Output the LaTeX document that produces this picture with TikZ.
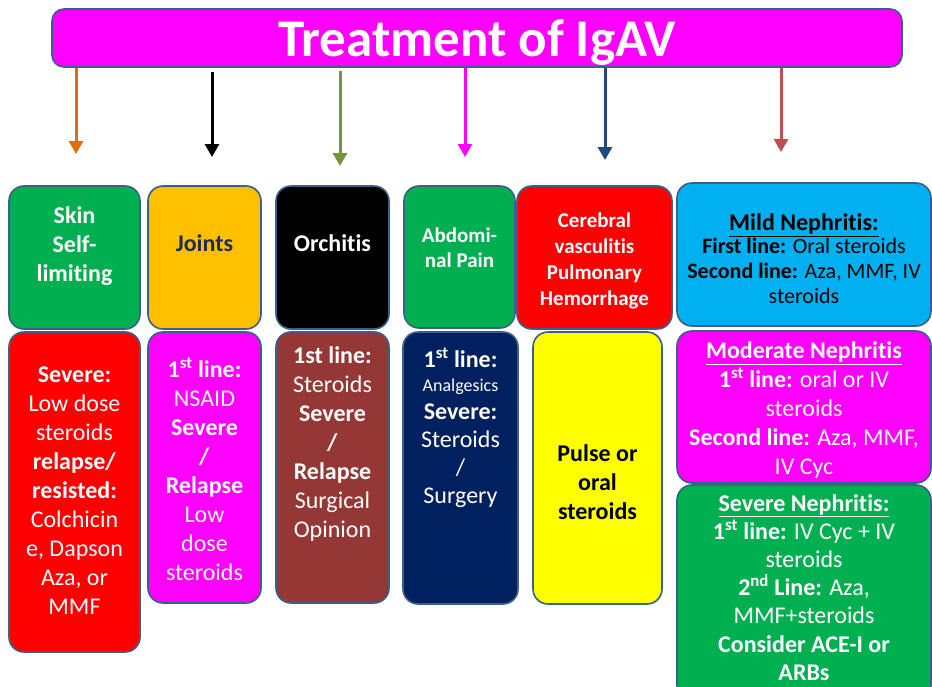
\documentclass[tikz,border=0pt]{standalone}
\usepackage{fontspec}
\setmainfont[Ligatures=NoCommon]{Carlito}
\usetikzlibrary{arrows.meta}

\definecolor{boxline}{HTML}{3A5F8A}
\definecolor{titlemag}{HTML}{FF00FF}
\definecolor{skingreen}{HTML}{00B050}
\definecolor{jointgold}{HTML}{FFC000}
\definecolor{jointtext}{HTML}{1F2D50}
\definecolor{cerebred}{HTML}{FF0000}
\definecolor{mildblue}{HTML}{00B0F0}
\definecolor{orchbrown}{HTML}{953735}
\definecolor{abdnavy}{HTML}{002060}
\definecolor{pulseyellow}{HTML}{FFFF00}
\definecolor{arrorange}{HTML}{E46C0A}
\definecolor{arrolive}{HTML}{77933C}
\definecolor{arrblue}{HTML}{1F497D}
\definecolor{arrbrown}{HTML}{C0504D}

\tikzstyle{block} = [rectangle, draw=boxline, line width=1.6pt, %fill=blue!20,
     rounded corners=15pt, inner sep=0pt]
\tikzstyle{txt} = [align=center, inner sep=0pt, anchor=north, text=white,
     font=\fontsize{24}{29}\selectfont]
\tikzstyle{arrow} = [draw, line width=3pt, -{Triangle[length=13pt,width=14pt]}]

\begin{document}
\begin{tikzpicture}[x=1pt,y=-1pt]
\useasboundingbox (0,0) rectangle (932,686);

\node[block, fill=titlemag, rounded corners=12pt, minimum width=850pt, minimum height=58pt] (title) at (477,38) {};
\node[txt, anchor=base, font=\fontsize{53}{56}\selectfont\bfseries] (titletext) at (477,56) {Treatment of IgAV};

% organ boxes
\node[block, fill=skingreen, minimum width=131pt, minimum height=143pt] (skin) at (74.5,257.5) {};
\node[block, fill=jointgold, minimum width=113pt, minimum height=143pt] (joints) at (204.5,257.5) {};
\node[block, fill=black, minimum width=113pt, minimum height=143pt] (orchitis) at (332.5,257.5) {};
\node[block, fill=skingreen, minimum width=111pt, minimum height=142pt] (abdominal) at (459.5,257) {};
\node[block, fill=cerebred, minimum width=155pt, minimum height=143pt] (cerebral) at (594.5,257.5) {};
\node[block, fill=mildblue, minimum width=254pt, minimum height=143pt] (mild) at (804,254.5) {};

\node[txt, font=\fontsize{24}{29}\selectfont\bfseries] (skintext) at (74.5,206.5) {Skin\\Self-\\limiting};
\node[txt, text=jointtext, font=\fontsize{24}{29}\selectfont\bfseries] (jointstext) at (204.5,234.5) {Joints};
\node[txt, font=\fontsize{24}{29}\selectfont\bfseries] (orchitistext) at (332.5,234.5) {Orchitis};
\node[txt, font=\fontsize{21}{25}\selectfont\bfseries] (abdominaltext) at (459.5,228) {Abdomi-\\nal Pain};
\node[txt, font=\fontsize{21}{26}\selectfont\bfseries] (cerebraltext) at (594.5,212.5) {Cerebral\\vasculitis\\Pulmonary\\Hemorrhage};
\node[txt, text=black, font=\fontsize{22}{25}\selectfont] (mildtext) at (804,213.5)
  {{\fontsize{24}{25}\selectfont\bfseries\underline{Mild Nephritis:}}\\[-2pt]
   \textbf{First line:} Oral steroids\\
   \textbf{Second line:} Aza, MMF, IV\\
   steroids};

% treatment boxes
\node[block, fill=cerebred, minimum width=131pt, minimum height=320pt] (skintreat) at (74.5,492) {};
\node[block, fill=titlemag, minimum width=113pt, minimum height=271pt] (jointstreat) at (204.5,467.5) {};
\node[block, fill=orchbrown, minimum width=113pt, minimum height=271pt] (orchitistreat) at (332.5,467.5) {};
\node[block, fill=abdnavy, minimum width=115pt, minimum height=272pt] (abdominaltreat) at (460.5,468) {};
\node[block, fill=pulseyellow, minimum width=129pt, minimum height=272pt] (cerebraltreat) at (597.5,468) {};
\node[block, fill=titlemag, minimum width=254pt, minimum height=152pt] (moderate) at (804,407) {};
\node[block, fill=skingreen, minimum width=254pt, minimum height=215pt] (severe) at (804,592.5) {};

\node[txt] (skintreattext) at (74.5,366.5)
  {\textbf{Severe:}\\Low dose\\steroids\\\textbf{relapse/}\\\textbf{resisted:}\\Colchicin\\e, Dapson\\Aza, or\\MMF};
\node[txt] (jointstreattext) at (204.5,357.5)
  {\textbf{1\textsuperscript{st} line:}\\NSAID\\\textbf{Severe}\\\textbf{/}\\\textbf{Relapse}\\Low\\dose\\steroids};
\node[txt] (orchitistreattext) at (332.5,346.5)
  {\textbf{1st line:}\\Steroids\\\textbf{Severe}\\\textbf{/}\\\textbf{Relapse}\\Surgical\\Opinion};
\node[txt, font=\fontsize{24}{28}\selectfont] (abdominaltreattext) at (460.5,347.5)
  {\textbf{1\textsuperscript{st} line:}\\[-4pt]{\fontsize{18}{28}\selectfont Analgesics}\\\textbf{Severe:}\\Steroids\\/\\Surgery};
\node[txt, text=black, font=\fontsize{24}{29}\selectfont\bfseries] (cerebraltreattext) at (597.5,444.5)
  {Pulse or\\oral\\steroids};
\node[txt] (moderatetext) at (804,341.5)
  {\textbf{\underline{Moderate Nephritis}}\\
   \textbf{1\textsuperscript{st} line:} oral or IV\\
   steroids\\
   \textbf{Second line:} Aza, MMF,\\
   IV Cyc};
\node[txt, font=\fontsize{24}{28.2}\selectfont] (severetext) at (804,494)
  {\textbf{\underline{Severe Nephritis:}}\\
   \textbf{1\textsuperscript{st} line:} IV Cyc + IV\\
   steroids\\
   \textbf{2\textsuperscript{nd} Line:} Aza,\\
   MMF+steroids\\
   \textbf{Consider ACE-I or}\\
   \textbf{ARBs}};

% arrows from the title bar
\coordinate (tipskin) at (76,154);
\coordinate (tipjoints) at (212,157);
\coordinate (tiporchitis) at (340,166);
\coordinate (tipabdominal) at (465,157);
\coordinate (tipcerebral) at (605,160);
\coordinate (tipmild) at (781,152);

\path[arrow, arrorange] (tipskin |- title.south) -- (tipskin);
\path[arrow, black] ([yshift=-4pt]tipjoints |- title.south) -- (tipjoints);
\path[arrow, arrolive] ([yshift=-3pt]tiporchitis |- title.south) -- (tiporchitis);
\path[arrow, titlemag] (tipabdominal |- title.south) -- (tipabdominal);
\path[arrow, arrblue] (tipcerebral |- title.south) -- (tipcerebral);
\path[arrow, arrbrown] (tipmild |- title.south) -- (tipmild);
\end{tikzpicture}
\end{document}
